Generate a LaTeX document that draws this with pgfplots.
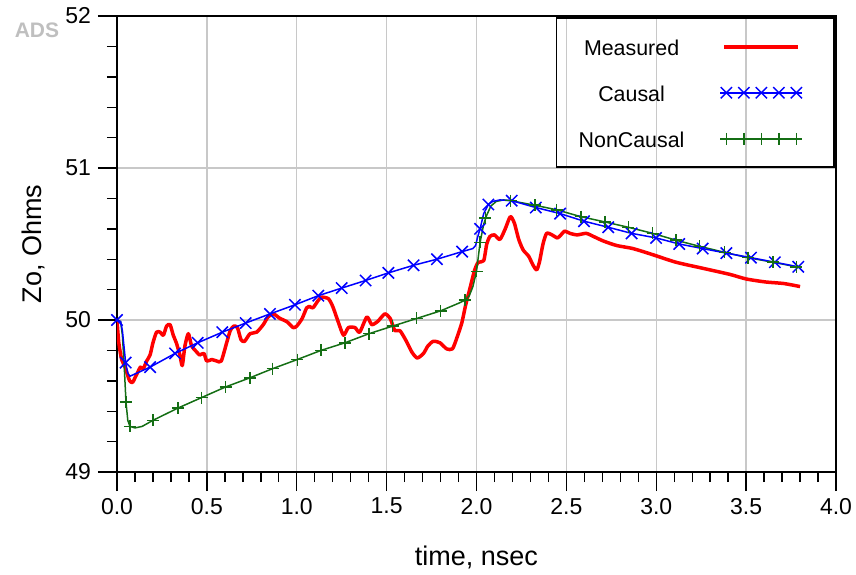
\documentclass[border=0pt]{standalone}
\usepackage{pgfplots}
\pgfplotsset{compat=1.18}
\usepackage{fontspec}
\setmainfont{Liberation Sans}
\definecolor{gridgray}{RGB}{200,200,200}
\definecolor{ncgreen}{RGB}{20,110,20}
\begin{document}
\begin{tikzpicture}
\path[use as bounding box] (-58.5pt,-51pt) rectangle (369.5pt,236pt);
\begin{axis}[
  scale only axis,
  width=359.5pt, height=228pt,
  at={(0,0)}, anchor=south west,
  xmin=0, xmax=4, ymin=49, ymax=52,
  xtick={0,0.5,...,4}, ytick={49,50,51,52},
  minor x tick num=4, minor y tick num=4,
  xtick pos=bottom, ytick pos=left,
  tick align=outside,
  major tick length=9.5pt, minor tick length=5pt,
  tick style={black, line width=0.7pt},
  axis line style={black, line width=0.8pt},
  grid=major,
  major grid style={gridgray, line width=0.7pt},
  /pgf/number format/assume math mode=true,
  xticklabel style={/pgf/number format/.cd, fixed, fixed zerofill, precision=1},
  yticklabel style={/pgf/number format/.cd, fixed, precision=0},
  tick label style={font=\fontsize{11.5}{13}\selectfont},
  label style={font=\fontsize{13.5}{16}\selectfont},
  xlabel={time, nsec},
  ylabel={Zo, Ohms},
  xlabel style={at={(axis description cs:0.5,0)}, anchor=base, yshift=-46.5pt},
  ylabel style={at={(axis description cs:0,0.5)}, anchor=base, yshift=37.5pt},
  legend plot pos=right,
  legend style={at={(axis description cs:0.9986,0.997)}, anchor=north east,
    draw=black, line width=0.9pt, fill=none,
    inner xsep=15.5pt, inner ysep=9.75pt, row sep=14pt, column sep=22pt,
    font=\fontsize{10.7}{12}\selectfont,
    nodes={inner sep=0pt, text height=9pt, text depth=0pt}},
]
% Measured
\addplot[red, line width=1.75pt, smooth, tension=0.4, line join=round,
  legend image code/.code={\draw[red, line width=1.75pt] (0pt,0pt) -- (37pt,0pt);}]
coordinates {
(0,50.0)(0.01,49.85)(0.026,49.74)(0.045,49.69)(0.07,49.60)(0.087,49.59)(0.10,49.62)(0.117,49.66)(0.13,49.69)(0.146,49.68)(0.165,49.73)(0.184,49.77)(0.20,49.85)(0.22,49.92)(0.24,49.92)(0.258,49.90)(0.276,49.96)(0.295,49.97)(0.313,49.90)(0.33,49.85)(0.35,49.77)(0.363,49.70)(0.378,49.83)(0.397,49.91)(0.415,49.83)(0.443,49.79)(0.46,49.77)(0.484,49.78)(0.499,49.73)(0.527,49.74)(0.555,49.73)(0.58,49.73)(0.61,49.85)(0.63,49.93)(0.65,49.96)(0.67,49.95)(0.69,49.87)(0.71,49.86)(0.74,49.91)(0.777,49.92)(0.814,49.97)(0.84,50.02)(0.87,50.04)(0.907,50.01)(0.944,49.99)(0.98,49.95)(1.0,49.96)(1.03,50.01)(1.055,50.08)(1.07,50.09)(1.09,50.08)(1.12,50.13)(1.14,50.15)(1.176,50.14)(1.20,50.09)(1.23,49.99)(1.26,49.90)(1.287,49.95)(1.324,49.95)(1.35,49.92)(1.39,50.02)(1.417,49.97)(1.45,49.99)(1.49,50.04)(1.52,50.01)(1.546,49.93)(1.574,49.93)(1.61,49.86)(1.64,49.79)(1.67,49.75)(1.705,49.78)(1.73,49.83)(1.76,49.86)(1.797,49.85)(1.834,49.81)(1.866,49.81)(1.89,49.88)(1.918,49.98)(1.94,50.10)(1.964,50.21)(1.99,50.33)(2.01,50.38)(2.04,50.39)(2.057,50.50)(2.075,50.55)(2.10,50.56)(2.13,50.53)(2.16,50.60)(2.188,50.68)(2.21,50.64)(2.235,50.53)(2.26,50.46)(2.29,50.42)(2.315,50.36)(2.335,50.33)(2.35,50.38)(2.37,50.50)(2.39,50.57)(2.42,50.56)(2.45,50.54)(2.47,50.56)(2.49,50.585)(2.52,50.57)(2.56,50.56)(2.61,50.57)(2.65,50.55)(2.705,50.52)(2.78,50.49)(2.87,50.47)(2.98,50.43)(3.11,50.38)(3.26,50.34)(3.41,50.30)(3.50,50.27)(3.61,50.25)(3.71,50.24)(3.80,50.22)
};
\addlegendentry{\makebox[44pt][c]{Measured}}
% NonCausal line
\addplot[ncgreen, line width=0.75pt, no marks, forget plot] coordinates {
(0,50.0)(0.02,49.99)(0.03,49.9)(0.04,49.7)(0.05,49.46)(0.06,49.34)(0.072,49.30)(0.1,49.29)(0.14,49.30)(0.20,49.34)(0.338,49.42)(0.471,49.49)(0.605,49.56)(0.74,49.62)(0.866,49.68)(1.003,49.74)(1.135,49.80)(1.268,49.85)(1.402,49.91)(1.534,49.96)(1.667,50.01)(1.80,50.06)(1.90,50.11)(1.936,50.13)(1.96,50.16)(1.98,50.22)(2.0,50.32)(2.02,50.51)(2.04,50.63)(2.057,50.69)(2.08,50.75)(2.11,50.78)(2.15,50.79)(2.19,50.785)(2.325,50.755)(2.446,50.725)(2.58,50.68)(2.715,50.645)(2.845,50.61)(2.98,50.57)(3.11,50.525)(3.24,50.485)(3.38,50.445)(3.51,50.41)(3.65,50.38)(3.78,50.35)(3.8,50.345)
};
% Causal line
\addplot[blue, line width=0.75pt, no marks, forget plot] coordinates {
(0,50.0)(0.02,49.99)(0.03,49.93)(0.048,49.72)(0.06,49.65)(0.072,49.63)(0.1,49.645)(0.184,49.69)(0.323,49.78)(0.449,49.85)(0.586,49.92)(0.716,49.98)(0.851,50.04)(0.99,50.10)(1.12,50.16)(1.25,50.21)(1.383,50.26)(1.51,50.31)(1.65,50.36)(1.78,50.40)(1.92,50.45)(1.98,50.47)(1.995,50.49)(2.005,50.54)(2.02,50.60)(2.04,50.70)(2.066,50.76)(2.09,50.78)(2.13,50.79)(2.196,50.785)(2.33,50.74)(2.465,50.70)(2.598,50.65)(2.733,50.61)(2.863,50.57)(2.999,50.54)(3.128,50.50)(3.258,50.47)(3.39,50.44)(3.527,50.41)(3.66,50.38)(3.79,50.35)(3.80,50.35)
};
% Causal marks
\addplot[blue, only marks, mark=x, mark size=4pt, mark options={line width=0.75pt},
  legend image code/.code={\draw[blue, line width=0.75pt] (-2pt,0pt) -- (39pt,0pt);
    \draw[blue, line width=0.75pt, only marks, mark=x, mark size=4pt] plot coordinates {(1pt,0pt) (9.75pt,0pt) (18.5pt,0pt) (27.25pt,0pt) (36pt,0pt)};}]
coordinates {
(0,50.0)(0.048,49.72)(0.184,49.69)(0.323,49.78)(0.449,49.85)(0.586,49.92)(0.716,49.98)(0.851,50.04)(0.99,50.10)(1.12,50.16)(1.25,50.21)(1.383,50.26)(1.51,50.31)(1.65,50.36)(1.78,50.40)(1.92,50.45)(2.02,50.60)(2.066,50.76)(2.196,50.785)(2.33,50.74)(2.465,50.70)(2.598,50.65)(2.733,50.61)(2.863,50.57)(2.999,50.54)(3.128,50.50)(3.258,50.47)(3.39,50.44)(3.527,50.41)(3.66,50.38)(3.79,50.35)
};
\addlegendentry{\makebox[44pt][c]{Causal}}
% NonCausal marks
\addplot[ncgreen, only marks, mark=+, mark size=3pt, mark options={line width=0.75pt},
  legend image code/.code={\draw[ncgreen, line width=0.75pt] (-2pt,0pt) -- (39pt,0pt);
    \draw[ncgreen, line width=0.75pt, only marks, mark=+, mark size=3pt] plot coordinates {(1pt,0pt) (9.75pt,0pt) (18.5pt,0pt) (27.25pt,0pt) (36pt,0pt)};}]
coordinates {
(0.05,49.46)(0.072,49.30)(0.20,49.34)(0.338,49.42)(0.471,49.49)(0.605,49.56)(0.74,49.62)(0.866,49.68)(1.003,49.74)(1.135,49.80)(1.268,49.85)(1.402,49.91)(1.534,49.96)(1.667,50.01)(1.80,50.06)(1.936,50.13)(2.0,50.32)(2.02,50.51)(2.05,50.67)(2.19,50.785)(2.325,50.755)(2.446,50.725)(2.58,50.68)(2.715,50.645)(2.845,50.61)(2.98,50.57)(3.11,50.525)(3.24,50.485)(3.38,50.445)(3.51,50.41)(3.65,50.38)(3.78,50.35)
};
\addlegendentry{\makebox[44pt][c]{NonCausal}}
\end{axis}
\node[text=gray!50, font=\bfseries\fontsize{10.5}{12}\selectfont] at (-40pt,221pt) {ADS};
\end{tikzpicture}
\end{document}
